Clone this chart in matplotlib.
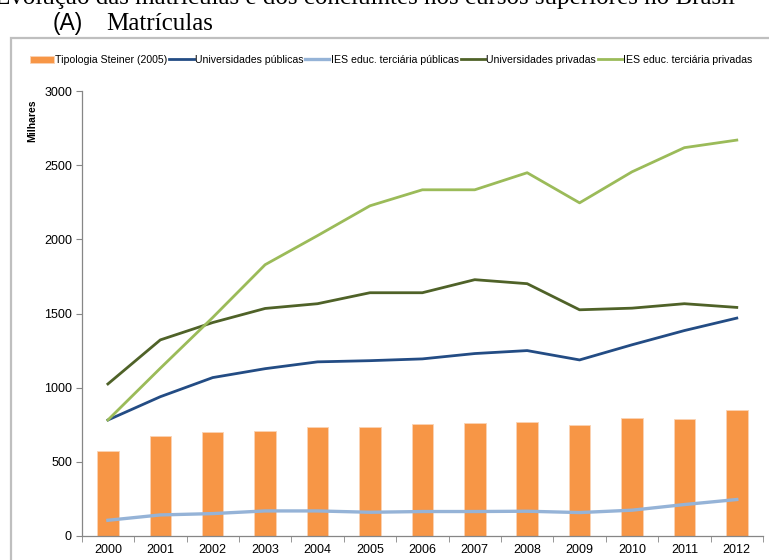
import numpy as np
import matplotlib.pyplot as plt
from matplotlib.patches import Rectangle

plt.rcParams['font.family'] = ['Liberation Sans', 'DejaVu Sans']

# data (milhares)
years = ['2000', '2001', '2002', '2003', '2004', '2005', '2006',
         '2007', '2008', '2009', '2010', '2011', '2012']
steiner = [572, 674, 701, 707, 736, 734, 753, 763, 766, 746, 795, 790, 851]
univ_publicas = [782, 939, 1068, 1128, 1174, 1182, 1194, 1230, 1250, 1187, 1289, 1385, 1469]
ies_publicas = [106, 142, 151, 169, 169, 160, 165, 165, 167, 158, 174, 212, 246]
univ_privadas = [1025, 1322, 1439, 1534, 1566, 1640, 1640, 1728, 1701, 1525, 1536, 1566, 1541]
ies_privadas = [782, 1131, 1473, 1829, 2025, 2226, 2334, 2334, 2449, 2246, 2455, 2618, 2669]

W, H = 769, 560
fig = plt.figure(figsize=(W / 100, H / 100), dpi=100)

# outer frame of the excel chart
fig.patches.append(Rectangle((11 / W, -0.05), 1.0, 1 - 37.5 / H + 0.05,
                             transform=fig.transFigure, fill=False,
                             edgecolor='#BFBFBF', lw=1.6))

# cut-off line of document text above the chart
fig.text(-5 / W, 1 - 4 / H, 'Evolução das matrículas e dos concluintes nos cursos superiores no Brasil',
         family='Liberation Serif', fontsize=18, va='baseline', ha='left')
fig.text(53 / W, 1 - 30 / H, '(A)', fontsize=16.5, va='baseline', ha='left')
fig.text(106 / W, 1 - 30 / H, 'Matrículas', family='Liberation Serif', fontsize=18,
         va='baseline', ha='left')

ax = fig.add_axes([81.7 / W, 24 / H, (763 - 81.7) / W, (536 - 91) / H])
x = np.arange(len(years))

b = ax.bar(x, steiner, width=0.41, color='#F79646', edgecolor='#FAD3B4', lw=0.6,
           label='Tipologia Steiner (2005)', zorder=2)
l1, = ax.plot(x, univ_publicas, color='#234C84', lw=2.0, label='Universidades públicas', zorder=3)
l2, = ax.plot(x, ies_publicas, color='#95B3D7', lw=2.4, label='IES educ. terciária públicas', zorder=3)
l3, = ax.plot(x, univ_privadas, color='#4F6228', lw=2.0, label='Universidades privadas', zorder=3)
l4, = ax.plot(x, ies_privadas, color='#9BBB59', lw=2.0, label='IES educ. terciária privadas', zorder=3)

ax.set_xlim(-0.5, len(years) - 0.5)
ax.set_ylim(0, 3000)
ax.set_yticks(range(0, 3001, 500))
ax.set_xticks(x)
ax.set_xticklabels(years)
ax.set_xticks(np.arange(-0.5, len(years)), minor=True)
ax.tick_params(axis='x', which='major', length=0, labelsize=9, pad=6)
ax.tick_params(axis='x', which='minor', length=4, color='#868686')
ax.tick_params(axis='y', length=4, color='#868686', labelsize=9, pad=3)

for s in ['top', 'right']:
    ax.spines[s].set_visible(False)
for s in ['left', 'bottom']:
    ax.spines[s].set_color('#868686')
    ax.spines[s].set_linewidth(0.9)

fig.text(32 / W, 1 - 121 / H, 'Milhares', rotation=90, fontsize=7.5,
         fontweight='bold', ha='center', va='center')

handles = [b, l1, l2, l3, l4]
fig.legend(handles, [h.get_label() for h in handles], loc='center',
           bbox_to_anchor=(391 / W, 1 - 60 / H), ncol=5, frameon=False,
           fontsize=7.6, handlelength=2.3, handletextpad=0.1, columnspacing=0.2,
           borderaxespad=0)

fig.savefig('out.png', dpi=100)
